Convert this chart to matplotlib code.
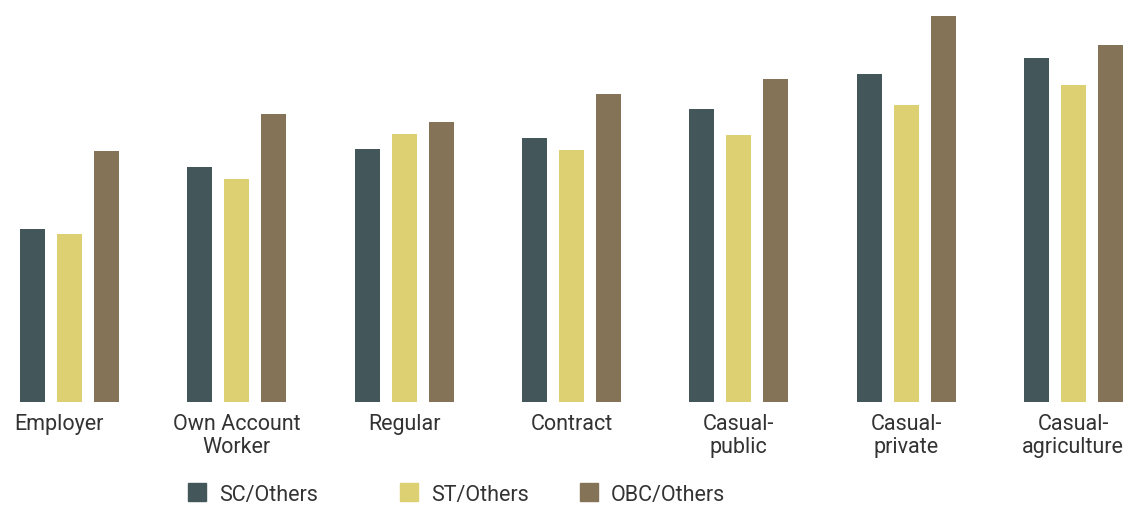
import matplotlib
matplotlib.use("Agg")
import matplotlib.pyplot as plt
import matplotlib.patches as mpatches
import matplotlib.transforms as mtransforms
import numpy as np

plt.rcParams['font.family'] = ['Roboto', 'DejaVu Sans']

categories = ["Employer", "Own Account\nWorker", "Regular", "Contract",
              "Casual-\npublic", "Casual-\nprivate", "Casual-\nagriculture"]
sc_others = [173, 235, 253, 264, 293, 328, 344]
st_others = [168, 223, 268, 252, 267, 297, 317]
obc_others = [251, 288, 280, 308, 323, 386, 357]

series_names = ["SC/Others", "ST/Others", "OBC/Others"]
colors = ["#43565A", "#DDD073", "#857358"]

fig = plt.figure(figsize=(11.29, 5.06), dpi=100)
ax = fig.add_axes([0, 103 / 506, 1, 403 / 506])

centers = 69.5 + np.arange(len(categories)) * 167.3
offsets = [-37, 0, 37]
for vals, off, col in zip([sc_others, st_others, obc_others], offsets, colors):
    ax.bar(centers + off, vals, width=25, color=col)

ax.set_xlim(0, 1129)
ax.set_ylim(0, 403)
ax.set_xticks(centers)
ax.set_xticklabels(categories, fontsize=15.5, color="#333333", linespacing=1.12)
ax.tick_params(axis='x', length=0, pad=8)
ax.set_yticks([])
for s in ax.spines.values():
    s.set_visible(False)

# first label sits a bit left of its group in the original
lab0 = ax.get_xticklabels()[0]
lab0.set_transform(lab0.get_transform() +
                   mtransforms.ScaledTranslation(-11 / 100, 0, fig.dpi_scale_trans))

# legend entries, placed one by one to keep the uneven spacing
leg_x = [188, 400, 580]
for name, col, x in zip(series_names, colors, leg_x):
    h = mpatches.Patch(color=col, label=name)
    fig.legend(handles=[h], loc="center left", bbox_to_anchor=(x / 1129, 11 / 506),
               frameon=False, fontsize=15.5, handlelength=0.85, handleheight=0.9,
               handletextpad=0.6, borderaxespad=0, borderpad=0,
               labelcolor="#333333")

fig.savefig("out.png", dpi=100)
